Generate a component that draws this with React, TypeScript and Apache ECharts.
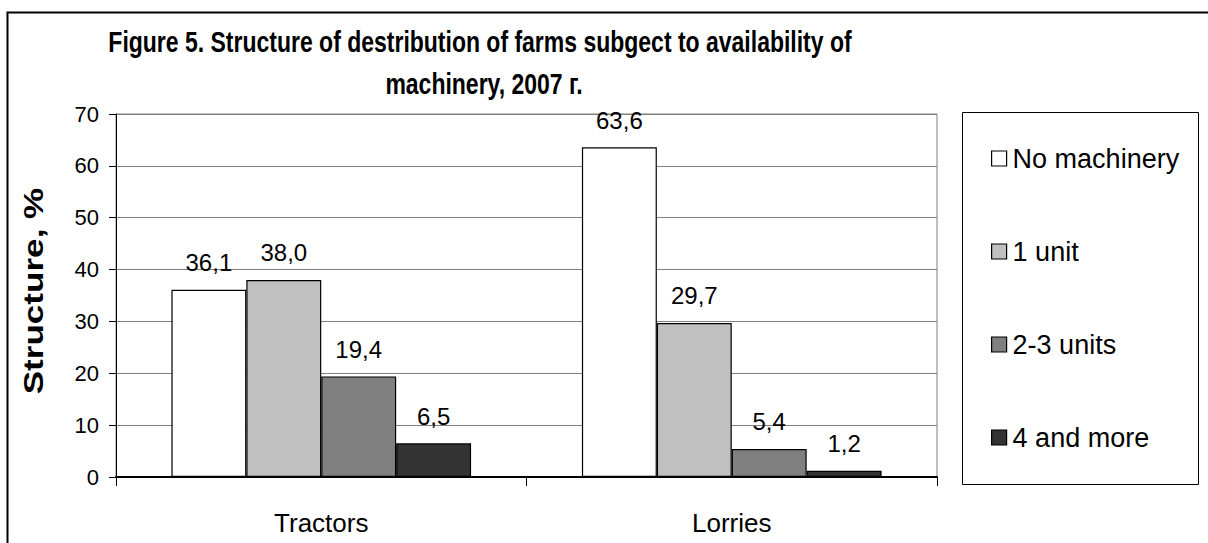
import React, { useEffect, useRef } from "react";
import * as echarts from "echarts";

const categories = ["Tractors", "Lorries"];
const seriesNames = ["No machinery", "1 unit", "2-3 units", "4 and more"];
const seriesColors = ["#FFFFFF", "#C0C0C0", "#808080", "#333333"];
const noMachinery = [36.1, 63.6];
const oneUnit = [38.0, 29.7];
const twoThreeUnits = [19.4, 5.4];
const fourAndMore = [6.5, 1.2];
const yTicks = { min: 0, max: 70, interval: 10 };
const titleLine1 = "Figure 5. Structure of destribution of farms subgect to availability of";
const titleLine2 = "machinery, 2007 г.";
const yAxisTitle = "Structure, %";

const FONT = "'Liberation Sans', Arial, sans-serif";

export default function App() {
  const ref = useRef<HTMLDivElement>(null);
  useEffect(() => {
    document.body.style.margin = "0";
    const chart = echarts.init(ref.current!, null, { renderer: "svg" });
    const values = [noMachinery, oneUnit, twoThreeUnits, fourAndMore];
    chart.setOption({
      animation: false,
      backgroundColor: "#FFFFFF",
      textStyle: { fontFamily: FONT },
      legend: {
        orient: "vertical",
        left: 986,
        top: 140,
        icon: "rect",
        itemWidth: 15,
        itemHeight: 15,
        itemGap: 66,
        data: seriesNames,
        itemStyle: { borderColor: "#000", borderWidth: 1.2 },
        textStyle: {
          fontFamily: FONT,
          fontSize: 27,
          color: "#000",
          lineHeight: 27,
          padding: [0, 0, 0, 1],
        },
      },
      grid: {
        left: 116,
        top: 114,
        right: 271,
        bottom: 66,
        show: true,
        borderColor: "#808080",
        borderWidth: 1,
      },
      xAxis: {
        type: "category",
        data: categories,
        axisLine: { lineStyle: { color: "#000", width: 2 } },
        axisTick: { show: true, alignWithLabel: false, length: 9, lineStyle: { color: "#000" } },
        axisLabel: { fontFamily: FONT, fontSize: 26, color: "#000", margin: 33 },
      },
      yAxis: {
        type: "value",
        min: yTicks.min,
        max: yTicks.max,
        interval: yTicks.interval,
        axisLine: { show: true, lineStyle: { color: "#000", width: 1 } },
        axisTick: { show: true, length: 7, lineStyle: { color: "#000" } },
        axisLabel: { fontFamily: FONT, fontSize: 22, color: "#000", margin: 17 },
        splitLine: { lineStyle: { color: "#808080", width: 1 } },
      },
      graphic: [
        {
          type: "rect",
          shape: { x: 7.5, y: 12.5, width: 1220, height: 560 },
          style: { fill: "none", stroke: "#000", lineWidth: 2 },
          silent: true,
        },
        {
          type: "rect",
          shape: { x: 962.5, y: 112.5, width: 236, height: 372 },
          style: { fill: "none", stroke: "#000", lineWidth: 1 },
          silent: true,
        },
        {
          type: "text",
          x: 480,
          y: 42,
          scaleY: 1.3,
          style: {
            text: titleLine1,
            fontFamily: FONT,
            fontSize: 23,
            fontWeight: "bold",
            fill: "#000",
            align: "center",
            verticalAlign: "middle",
          },
        },
        {
          type: "text",
          x: 484,
          y: 84,
          scaleY: 1.3,
          style: {
            text: titleLine2,
            fontFamily: FONT,
            fontSize: 23,
            fontWeight: "bold",
            fill: "#000",
            align: "center",
            verticalAlign: "middle",
          },
        },
        {
          type: "text",
          x: 34,
          y: 291,
          rotation: Math.PI / 2,
          scaleX: 1.3,
          style: {
            text: yAxisTitle,
            fontFamily: FONT,
            fontSize: 27,
            fontWeight: "bold",
            fill: "#000",
            align: "center",
            verticalAlign: "middle",
          },
        },
      ],
      series: seriesNames.map((name, i) => ({
        name,
        type: "bar",
        data: values[i],
        barGap: "0%",
        barCategoryGap: "27%",
        itemStyle: { color: seriesColors[i], borderColor: "#000", borderWidth: 1.2 },
        label: {
          show: true,
          position: "top",
          distance: 15,
          fontFamily: FONT,
          fontSize: 24,
          color: "#000",
          formatter: (p: any) => Number(p.value).toFixed(1).replace(".", ","),
        },
      })),
    });
    return () => chart.dispose();
  }, []);
  return <div ref={ref} style={{ width: 1208, height: 543 }} />;
}
